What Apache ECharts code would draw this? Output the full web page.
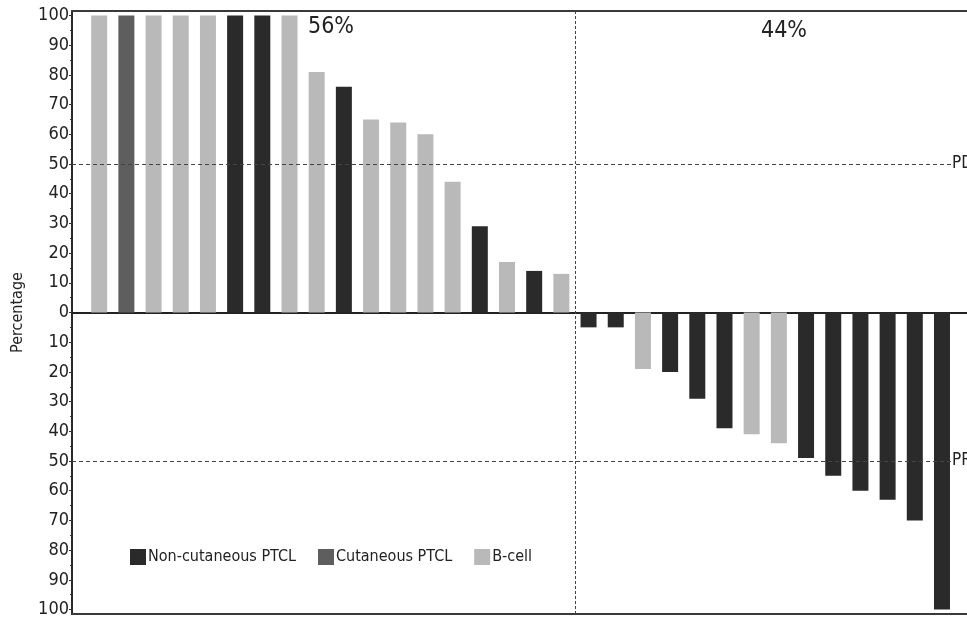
<!DOCTYPE html>
<html>
<head>
<meta charset="utf-8">
<script src="https://cdn.jsdelivr.net/npm/echarts@6/dist/echarts.min.js"></script>
<style>
  html, body { margin: 0; padding: 0; background: #fff; }
  #chart { width: 967px; height: 621px; }
</style>
</head>
<body>
<div id="chart"></div>
<script>
// per-patient best change (%) and group, in waterfall order
const changes = [100, 100, 100, 100, 100, 100, 100, 100, 81, 76, 65, 64, 60, 44, 29, 17, 14, 13,
  -5, -5, -19, -20, -29, -39, -41, -44, -49, -55, -60, -63, -70, -100]
const groups = ['B', 'C', 'B', 'B', 'B', 'N', 'N', 'B', 'B', 'N', 'B', 'B', 'B', 'B', 'N', 'B', 'N', 'B',
  'N', 'N', 'B', 'N', 'N', 'N', 'B', 'B', 'N', 'N', 'N', 'N', 'N', 'N']
const groupNames = { N: 'Non-cutaneous PTCL', C: 'Cutaneous PTCL', B: 'B-cell' }
const groupColors = { N: '#2a2a2a', C: '#5e5e5e', B: '#b9b9b9' }
const majorTicks = [-100, -90, -80, -70, -60, -50, -40, -30, -20, -10, 0, 10, 20, 30, 40, 50, 60, 70, 80, 90, 100]
const minorTicks = [-95, -85, -75, -65, -55, -45, -35, -25, -15, -5, 5, 15, 25, 35, 45, 55, 65, 75, 85, 95]
const splitAt = 18.5 // between progressing and responding patients
const pctLeft = '56%'
const pctRight = '44%'

const font = "'Liberation Sans Narrow', 'DejaVu Sans Condensed', sans-serif"

const myChart = echarts.init(document.getElementById('chart'))

const series = ['N', 'C', 'B'].map(function (g, k) {
  const data = []
  changes.forEach(function (v, i) {
    if (groups[i] === g) data.push([i + 1, v])
  })
  const s = {
    name: groupNames[g],
    type: 'bar',
    data: data,
    barWidth: 16,
    barGap: '-100%',
    itemStyle: { color: groupColors[g] }
  }
  if (k === 0) {
    s.markLine = {
      silent: true,
      symbol: 'none',
      lineStyle: { color: '#444', type: [4, 3], width: 1 },
      label: { color: '#222', fontFamily: font, fontSize: 17, position: 'end', distance: 1 },
      data: [
        [{ coord: [0, 50], label: { formatter: 'PD' } }, { coord: [32.33, 50] }],
        [{ coord: [0, -50], label: { formatter: 'PR' } }, { coord: [32.33, -50] }],
        { xAxis: splitAt, label: { show: false }, lineStyle: { type: [3, 2] } }
      ]
    }
  }
  return s
})

const frameAxis = function (pos) {
  return {
    type: 'value',
    min: 0,
    max: 32.92,
    position: pos,
    axisLine: { onZero: false, lineStyle: { color: '#3a3a3a', width: 2 } },
    axisTick: { show: false },
    axisLabel: { show: false },
    splitLine: { show: false }
  }
}

const option = {
  animation: false,
  grid: {
    left: 72,
    top: 11,
    right: 0,
    bottom: 7
  },
  legend: {
    left: 125,
    top: 544,
    icon: 'rect',
    itemWidth: 16,
    itemHeight: 16,
    itemGap: 22,
    textStyle: { fontFamily: font, fontSize: 16, color: '#222', padding: [0, 0, 0, -3] },
    data: ['Non-cutaneous PTCL', 'Cutaneous PTCL', 'B-cell']
  },
  xAxis: [
    {
      type: 'value',
      min: 0,
      max: 32.92,
      axisLine: { onZero: true, lineStyle: { color: '#222', width: 2 } },
      axisTick: { show: false },
      axisLabel: { show: false },
      splitLine: { show: false }
    },
    frameAxis('top'),
    frameAxis('bottom')
  ],
  yAxis: [
    {
      type: 'value',
      min: -101.5,
      max: 101.5,
      name: 'Percentage',
      nameLocation: 'middle',
      nameGap: 46,
      nameTextStyle: { fontFamily: font, fontSize: 16, color: '#222' },
      axisLine: { show: true, onZero: false, lineStyle: { color: '#2a2a2a', width: 2 } },
      axisTick: { show: true, length: 3, customValues: majorTicks, lineStyle: { color: '#333' } },
      axisLabel: {
        customValues: majorTicks,
        formatter: function (v) { return Math.abs(v) },
        fontFamily: font,
        fontSize: 18,
        color: '#222',
        margin: 3
      },
      splitLine: { show: false }
    },
    {
      type: 'value',
      min: -101.5,
      max: 101.5,
      position: 'left',
      axisLine: { show: false },
      axisTick: { show: true, length: 2, customValues: minorTicks, lineStyle: { color: '#333' } },
      axisLabel: { show: false },
      splitLine: { show: false }
    }
  ],
  graphic: [
    {
      type: 'text',
      left: 308,
      top: 16,
      style: { text: pctLeft, font: '23px ' + font, fill: '#222' }
    },
    {
      type: 'text',
      left: 761,
      top: 20,
      style: { text: pctRight, font: '23px ' + font, fill: '#222' }
    }
  ],
  series: series
}

myChart.setOption(option)
</script>
</body>
</html>
